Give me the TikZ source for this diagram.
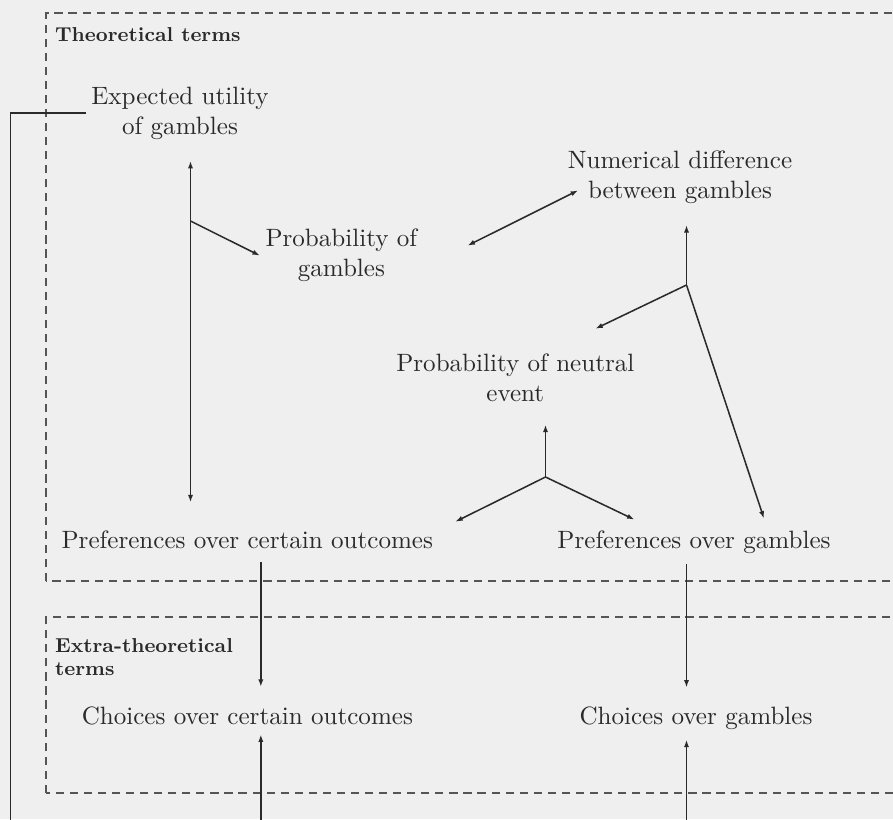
\documentclass[tikz,border=0pt]{standalone}
\usepackage{tikz}
\usetikzlibrary{arrows.meta,positioning,calc}
\definecolor{paper}{HTML}{EFEFEF}
\definecolor{ink}{HTML}{2A2A2A}
\definecolor{frame}{HTML}{555555}

\begin{document}
\begin{tikzpicture}[>={Latex[length=3.2pt,width=2.2pt]},
  term/.style={align=center,text=ink,font=\fontsize{10.7}{12.8}\selectfont},
  boxlabel/.style={align=left,text=ink,inner sep=0pt,font=\fontsize{8.6}{9.6}\selectfont\bfseries},
  region/.style={draw=frame,dash pattern=on 3.5pt off 2.5pt,line width=0.45pt},
  link/.style={draw=ink,line width=0.65pt}]
  \fill[paper] (0,0) rectangle (13.395,12.285);
  \useasboundingbox (0,0) rectangle (13.395,12.285);
  % the two dashed regions
  \draw[region] (0.69,3.57) rectangle (14,12.09);
  \draw[region] (0.69,0.39) rectangle (14,3.03);
  \node[boxlabel,anchor=west] (theo) at (0.82,11.76) {Theoretical terms};
  \node[boxlabel,anchor=west] (extra) at (0.82,2.43) {Extra-theoretical\\terms};
  % terms
  \node[term] (eu)  at (2.70,10.59) {Expected utility\\of gambles};
  \node[term] (pg)  at (5.12,8.45)  {Probability of\\gambles};
  \node[term] (nd)  at (10.20,9.63) {Numerical difference\\between gambles};
  \node[term] (pn)  at (7.73,6.62)  {Probability of neutral\\event};
  \node[term] (poc) at (3.71,4.19)  {Preferences over certain outcomes};
  \node[term] (pog) at (10.41,4.145) {Preferences over gambles};
  \node[term] (coc) at (3.71,1.55)  {Choices over certain outcomes};
  \node[term] (cog) at (10.44,1.505) {Choices over gambles};
  % junctions
  \coordinate (j1) at (2.8575,8.97);
  \coordinate (j2) at (10.2975,8.01);
  \coordinate (j3) at (8.1825,5.13);
  \coordinate (out) at (0.1575,-0.3);
  % connectors
  \draw[link,<->,shorten <=0.2cm,shorten >=0.3cm] (j1 |- eu.south) -- (j1 |- poc.north);
  \draw[link,->] (j1) -- ([shift={(0.04,0)}]pg.west);
  \draw[link,<->] ([shift={(0.63,0.15)}]pg.east) -- ([shift={(0.28,0.32)}]nd.south west);
  \draw[link,->,shorten >=0.2cm] (j2) -- (j2 |- nd.south);
  \draw[link,->] (j2) -- ([shift={(-0.71,0.25)}]pn.north east);
  \draw[link,->] (j2) -- ([shift={(1.05,0.065)}]pog.north);
  \draw[link,->,shorten >=0.22cm] (j3) -- (j3 |- pn.south);
  \draw[link,->] (j3) -- ([shift={(0.21,0.01)}]poc.north east);
  \draw[link,->] (j3) -- ([shift={(1.28,0.05)}]pog.north west);
  \draw[link,->,shorten <=0.08cm,shorten >=0.17cm] ([xshift=0.2025cm]poc.south) -- ([xshift=0.2025cm]coc.north);
  \draw[link,->,shorten >=0.02cm] ([xshift=0.2025cm]coc.south |- out) -- ([xshift=0.2025cm]coc.south);
  \draw[link,->,shorten <=0.02cm,shorten >=0.17cm] ([xshift=-0.1125cm]pog.south) -- ([xshift=-0.1425cm]cog.north);
  \draw[link,->,shorten >=0.02cm] ([xshift=-0.1425cm]cog.south |- out) -- ([xshift=-0.1425cm]cog.south);
  \draw[link] ([xshift=0.04cm]eu.west) -| (out);
\end{tikzpicture}
\end{document}
